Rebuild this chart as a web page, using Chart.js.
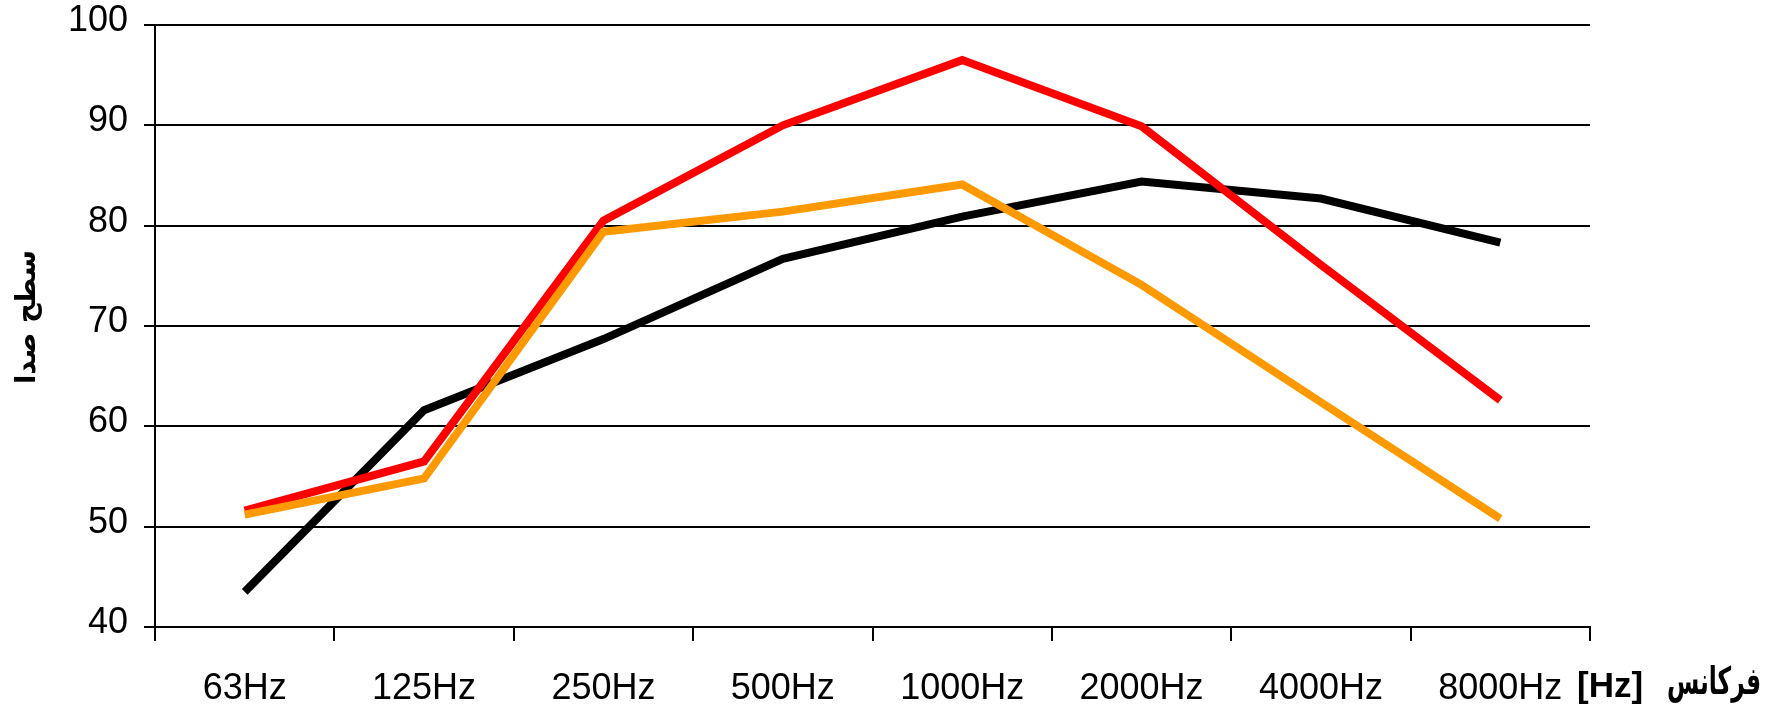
<!DOCTYPE html>
<html>
<head>
<meta charset="utf-8">
<script src="https://cdn.jsdelivr.net/npm/chart.js@4.4.1/dist/chart.umd.min.js"></script>
<style>
html,body{margin:0;padding:0;background:#fff;}
#wrap{width:1769px;height:705px;position:relative;}
</style>
</head>
<body>
<div id="wrap"><canvas id="c" width="1769" height="705"></canvas></div>
<script>
const categories = ['63Hz','125Hz','250Hz','500Hz','1000Hz','2000Hz','4000Hz','8000Hz'];
const seriesBlack  = [43.5, 61.6, 68.7, 76.7, 80.9, 84.4, 82.7, 78.3];
const seriesRed    = [51.6, 56.5, 80.5, 90.0, 96.5, 89.9, 76.1, 62.6];
const seriesOrange = [51.2, 54.8, 79.4, 81.4, 84.1, 74.1, 62.4, 50.8];
const yTicks = [40, 50, 60, 70, 80, 90, 100];
const yTitle = 'سطح صدا';
const xTitleUnit = '[Hz]';
const xTitleWord = 'فرکانس';

const FONT = '"Liberation Sans", Arial, sans-serif';

const axisTitles = {
  id: 'axisTitles',
  afterDraw(chart) {
    const ctx = chart.ctx;
    ctx.save();
    ctx.fillStyle = '#000';
    ctx.translate(28, 317);
    ctx.rotate(-Math.PI / 2);
    ctx.font = 'bold 28px "DejaVu Sans", sans-serif';
    const wy = ctx.measureText(yTitle).width;
    ctx.scale(134 / wy, 1);
    ctx.textAlign = 'center';
    ctx.textBaseline = 'middle';
    ctx.fillText(yTitle, 0, 0);
    ctx.restore();

    ctx.save();
    ctx.fillStyle = '#000';
    ctx.textBaseline = 'alphabetic';
    ctx.font = 'bold 35px ' + FONT;
    ctx.textAlign = 'left';
    ctx.fillText(xTitleUnit, 1577, 697);
    ctx.restore();

    ctx.save();
    ctx.fillStyle = '#000';
    ctx.textBaseline = 'alphabetic';
    ctx.font = 'bold 38px "DejaVu Sans", sans-serif';
    const w = ctx.measureText(xTitleWord).width;
    ctx.translate(1761, 694);
    ctx.scale(94 / w, 1);
    ctx.textAlign = 'right';
    ctx.fillText(xTitleWord, 0, 0);
    ctx.restore();
  }
};

new Chart(document.getElementById('c'), {
  type: 'line',
  data: {
    labels: categories,
    datasets: [
      { label: 'orange', data: seriesOrange, borderColor: '#FF9900', order: 0 },
      { label: 'red', data: seriesRed, borderColor: '#FF0000', order: 1 },
      { label: 'black', data: seriesBlack, borderColor: '#000000', order: 2 }
    ]
  },
  options: {
    responsive: false,
    animation: false,
    devicePixelRatio: 1,
    layout: { padding: { left: 0, right: 179, top: 25, bottom: 0 } },
    elements: {
      line: { borderWidth: 8, tension: 0, fill: false, borderCapStyle: 'butt', borderJoinStyle: 'miter' },
      point: { radius: 0, hoverRadius: 0 }
    },
    plugins: {
      legend: { display: false },
      tooltip: { enabled: false },
      title: { display: false }
    },
    scales: {
      x: {
        type: 'category',
        offset: true,
        grid: { offset: true, drawOnChartArea: false, drawTicks: true, tickLength: 14, color: '#000', lineWidth: 2 },
        border: { display: true, color: '#000', width: 2 },
        ticks: { color: '#000', font: { family: FONT, size: 36 }, padding: 26, maxRotation: 0, autoSkip: false },
        afterFit(scale) { scale.height = 78; scale.paddingLeft = 0; scale.paddingRight = 0; }
      },
      y: {
        min: 40, max: 100,
        afterBuildTicks(scale) { scale.ticks = yTicks.map(v => ({ value: v })); },
        grid: { color: '#000', lineWidth: 2, drawTicks: true, tickLength: 11 },
        border: { display: true, color: '#000', width: 2 },
        ticks: { color: '#000', font: { family: FONT, size: 36 }, padding: 16, labelOffset: -4 },
        afterFit(scale) { scale.width = 155; scale.paddingTop = 0; scale.paddingBottom = 0; }
      }
    }
  },
  plugins: [axisTitles]
});
</script>
</body>
</html>
